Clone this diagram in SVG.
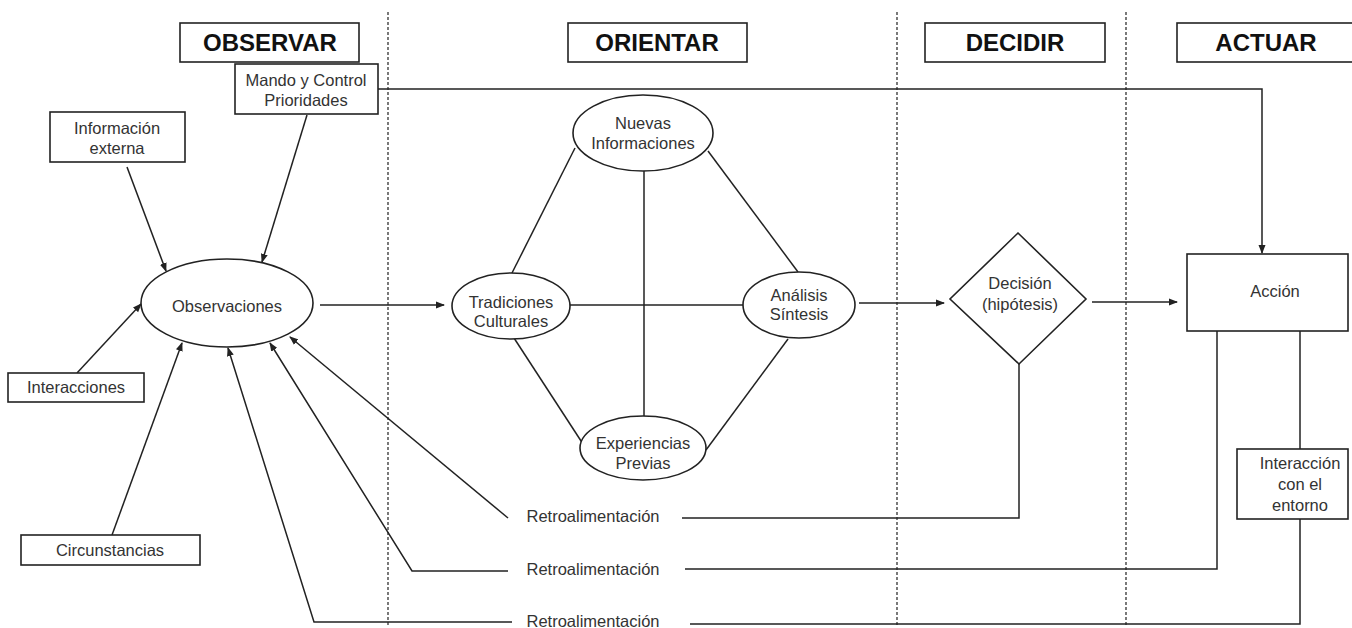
<svg xmlns="http://www.w3.org/2000/svg" width="1352" height="628" viewBox="0 0 1352 628">
<style>
.bx{fill:#fff;stroke:#222;stroke-width:1.6}
.ln{fill:none;stroke:#222;stroke-width:1.5}
.ar{fill:none;stroke:#222;stroke-width:1.5;marker-end:url(#ah)}
.dash{stroke:#333;stroke-width:1.3;stroke-dasharray:3 2}
.t{font-family:"Liberation Sans",Arial,sans-serif;font-size:16.5px;fill:#333;text-anchor:middle}
.h{font-family:"Liberation Sans",Arial,sans-serif;font-size:24px;font-weight:bold;fill:#111;text-anchor:middle}
</style>
<defs>
<marker id="ah" markerWidth="9" markerHeight="8" refX="8" refY="4" orient="auto" markerUnits="userSpaceOnUse">
<path d="M0,0.5 L9,4 L0,7.5 Z" fill="#222"/>
</marker>
</defs>
<rect width="1352" height="628" fill="#fff"/>
<g id="phase-dividers">
<line class="dash" x1="388" y1="12" x2="388" y2="626"/>
<line class="dash" x1="897" y1="12" x2="897" y2="626"/>
<line class="dash" x1="1126" y1="12" x2="1126" y2="626"/>
</g>
<g id="connectors">
<line class="ar" x1="127" y1="167" x2="166" y2="271"/>
<line class="ar" x1="307" y1="115" x2="262" y2="262"/>
<line class="ar" x1="77" y1="373" x2="141" y2="304"/>
<line class="ar" x1="112" y1="535" x2="182" y2="343"/>
<line class="ar" x1="508" y1="518" x2="290" y2="337"/>
<polyline class="ar" points="508,571 412,571 270,343"/>
<polyline class="ar" points="512,622 314,622 228,348"/>
<line class="ar" x1="320" y1="305" x2="444" y2="305"/>
<polyline class="ar" points="378,89 1262,89 1262,253"/>
<line class="ln" x1="575" y1="148" x2="512" y2="273"/>
<line class="ln" x1="708" y1="151" x2="798" y2="272"/>
<line class="ln" x1="644" y1="171" x2="644" y2="416"/>
<line class="ln" x1="570" y1="305" x2="743" y2="305"/>
<line class="ln" x1="514" y1="338" x2="583" y2="444"/>
<line class="ln" x1="788" y1="339" x2="706" y2="450"/>
<line class="ar" x1="859" y1="303" x2="944" y2="303"/>
<line class="ar" x1="1092" y1="302" x2="1177" y2="302"/>
<polyline class="ln" points="682,518 1019,518 1019,364"/>
<polyline class="ln" points="685,569 1217,569 1217,331"/>
<polyline class="ln" points="690,624 1300,624 1300,519"/>
<line class="ln" x1="1300" y1="331" x2="1300" y2="449"/>
</g>
<g id="hdr-observar"><rect class="bx" x="180" y="23" width="179" height="39"/><text class="h" x="270" y="51">OBSERVAR</text></g>
<g id="hdr-orientar"><rect class="bx" x="568" y="23" width="179" height="39"/><text class="h" x="657" y="51">ORIENTAR</text></g>
<g id="hdr-decidir"><rect class="bx" x="925" y="23" width="180" height="39"/><text class="h" x="1015" y="51">DECIDIR</text></g>
<g id="hdr-actuar"><rect class="bx" x="1177" y="23" width="185" height="39"/><text class="h" x="1266" y="51">ACTUAR</text></g>
<g id="mando"><rect class="bx" x="235" y="64" width="143" height="50"/><text class="t" x="306" y="86">Mando y Control</text><text class="t" x="306" y="106">Prioridades</text></g>
<g id="info-externa"><rect class="bx" x="50" y="112" width="135" height="50"/><text class="t" x="117" y="134">Información</text><text class="t" x="117" y="154">externa</text></g>
<g id="interacciones"><rect class="bx" x="8" y="373" width="136" height="29"/><text class="t" x="76" y="393">Interacciones</text></g>
<g id="circunstancias"><rect class="bx" x="21" y="535" width="179" height="30"/><text class="t" x="110" y="556">Circunstancias</text></g>
<g id="observaciones"><ellipse class="bx" cx="227" cy="303" rx="86" ry="44"/><text class="t" x="227" y="312">Observaciones</text></g>
<g id="nuevas"><ellipse class="bx" cx="643" cy="133" rx="70" ry="38"/><text class="t" x="643" y="129">Nuevas</text><text class="t" x="643" y="149">Informaciones</text></g>
<g id="tradiciones"><ellipse class="bx" cx="511" cy="306" rx="59" ry="33"/><text class="t" x="511" y="308">Tradiciones</text><text class="t" x="511" y="327">Culturales</text></g>
<g id="analisis"><ellipse class="bx" cx="799" cy="305" rx="56" ry="33"/><text class="t" x="799" y="301">Análisis</text><text class="t" x="799" y="320">Síntesis</text></g>
<g id="experiencias"><ellipse class="bx" cx="643" cy="448" rx="63" ry="32"/><text class="t" x="643" y="449">Experiencias</text><text class="t" x="643" y="469">Previas</text></g>
<g id="decision"><polygon class="bx" points="1018,233 1086,299 1019,364 950,299"/><text class="t" x="1020" y="289">Decisión</text><text class="t" x="1020" y="310">(hipótesis)</text></g>
<g id="accion"><rect class="bx" x="1187" y="254" width="161" height="77"/><text class="t" x="1275" y="297">Acción</text></g>
<g id="interaccion-entorno"><rect class="bx" x="1237" y="449" width="111" height="70"/><text class="t" x="1300" y="469">Interacción</text><text class="t" x="1300" y="490">con el</text><text class="t" x="1300" y="511">entorno</text></g>
<g id="retro-labels">
<text class="t" x="593" y="522">Retroalimentación</text>
<text class="t" x="593" y="575">Retroalimentación</text>
<text class="t" x="593" y="627">Retroalimentación</text>
</g>
</svg>
